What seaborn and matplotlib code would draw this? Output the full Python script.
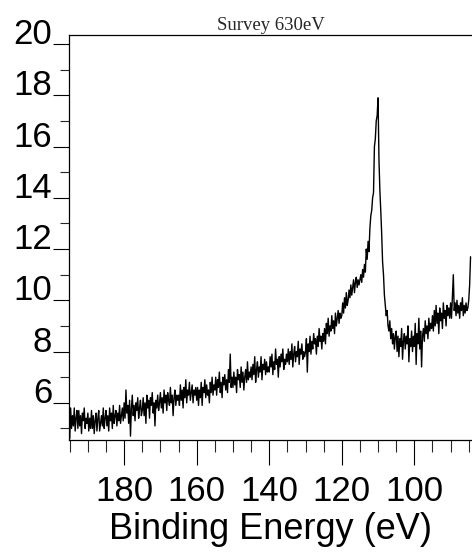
import numpy as np
import pandas as pd
import matplotlib
matplotlib.use("Agg")
import matplotlib.pyplot as plt
import seaborn as sns
from matplotlib.ticker import MultipleLocator

# Binding energy grid (eV), 0.25 eV steps from 195.0 down to 84.5
energy_start = 195.0
energy_step = 0.25

intensity = [
    # 195.0 - 190.25
    4.6, 5.8, 5.0, 5.5, 5.1, 5.8, 4.9, 5.4, 5.7, 5.0, 5.7, 5.1, 5.5, 4.8, 5.6, 5.3, 5.8, 5.0, 5.4, 5.2,
    # 190.0 - 185.25
    5.6, 4.9, 5.4, 5.0, 5.7, 5.0, 5.5, 4.8, 5.3, 5.6, 4.9, 5.4, 5.7, 4.9, 5.2, 5.5, 5.1, 5.8, 5.0, 5.4,
    # 185.0 - 180.25
    5.7, 5.1, 5.5, 4.9, 5.8, 5.3, 5.6, 5.0, 5.9, 5.2, 5.5, 5.7, 5.1, 5.6, 5.3, 5.9, 5.2, 5.5, 5.8, 5.3,
    # 180.0 - 175.25
    6.0, 5.4, 6.5, 5.6, 5.9, 5.2, 6.1, 4.7, 5.8, 6.3, 5.5, 5.9, 5.3, 6.0, 5.7, 6.2, 5.4, 5.8, 6.1, 5.5,
    # 175.0 - 170.25
    5.7, 6.2, 5.5, 6.0, 5.2, 6.3, 5.8, 6.1, 5.4, 6.2, 5.9, 6.4, 5.6, 6.0, 5.1, 6.1, 5.8, 6.3, 5.7, 6.0,
    # 170.0 - 165.25
    6.4, 5.8, 6.2, 5.6, 6.5, 6.0, 6.3, 5.7, 6.4, 6.1, 5.9, 6.6, 6.0, 6.3, 5.5, 6.2, 6.5, 5.9, 6.3, 6.1,
    # 165.0 - 160.25
    6.3, 5.9, 6.7, 6.1, 6.5, 5.8, 6.6, 6.2, 6.9, 6.0, 6.5, 6.3, 6.8, 6.1, 6.4, 6.7, 6.0, 6.5, 6.3, 6.6,
    # 160.0 - 155.25
    6.1, 6.6, 5.9, 6.5, 6.2, 6.8, 5.9, 6.6, 6.4, 6.9, 6.2, 6.7, 6.3, 6.5, 6.0, 6.8, 6.4, 7.0, 6.3, 6.7,
    # 155.0 - 150.25
    6.5, 7.0, 6.3, 6.9, 6.6, 7.2, 6.4, 6.8, 6.2, 7.0, 6.7, 7.1, 6.5, 6.9, 6.4, 7.3, 6.8, 7.9, 6.6, 7.0,
    # 150.0 - 145.25
    6.6, 7.2, 6.7, 7.0, 6.4, 7.3, 6.9, 7.1, 6.6, 7.4, 6.8, 7.2, 6.5, 7.0, 7.3, 6.8, 7.6, 6.9, 7.2, 7.0,
    # 145.0 - 140.25
    7.4, 6.9, 7.5, 7.1, 7.8, 6.8, 7.3, 7.6, 7.0, 7.4, 7.2, 7.8, 6.9, 7.5, 7.3, 7.7, 7.1, 7.6, 7.2, 7.4,
    # 140.0 - 135.25
    7.2, 7.8, 7.4, 7.9, 7.1, 7.6, 7.3, 8.1, 7.5, 7.7, 7.0, 7.8, 7.4, 7.9, 7.6, 8.1, 7.3, 7.7, 7.5, 7.9,
    # 135.0 - 130.25
    7.6, 8.1, 7.5, 8.0, 7.7, 8.3, 7.4, 7.9, 8.2, 7.6, 8.0, 7.8, 8.4, 7.5, 8.1, 7.9, 8.3, 7.7, 8.0, 7.8,
    # 130.0 - 125.25
    8.0, 8.5, 7.2, 8.3, 8.0, 8.6, 7.9, 8.4, 8.1, 8.7, 8.3, 8.5, 7.9, 8.6, 8.2, 8.9, 8.4, 8.6, 8.1, 8.7,
    # 125.0 - 120.25
    8.4, 8.9, 8.3, 9.1, 8.7, 9.3, 8.6, 9.0, 8.8, 9.4, 8.9, 9.2, 8.7, 9.5, 9.0, 9.3, 9.6, 9.1, 9.5, 9.3,
    # 120.0 - 115.25
    9.4, 9.9, 9.5, 10.1, 9.7, 10.3, 9.8, 10.0, 10.4, 10.1, 10.6, 10.2, 10.5, 10.8, 10.3, 10.7, 10.9, 10.5, 10.8, 10.6,
    # 115.0 - 110.25
    10.8, 11.0, 10.7, 11.2, 10.9, 11.4, 11.1, 12.0, 11.6, 12.3, 11.9, 12.8, 13.3, 13.5, 14.0, 14.2, 16.0, 16.3, 17.0, 17.2,
    # 110.0 - 105.25
    17.9, 15.5, 14.3, 13.5, 12.6, 11.5, 11.0, 10.2, 9.8, 9.4, 9.6, 9.0, 8.8, 9.2, 8.5, 8.9, 8.3, 8.7, 8.1, 8.6,
    # 105.0 - 100.25
    8.8, 8.0, 8.6, 7.8, 8.5, 8.2, 8.9, 7.7, 8.4, 8.7, 8.1, 8.6, 8.3, 9.0, 7.6, 8.5, 8.2, 8.8, 8.0, 8.6,
    # 100.0 - 95.25
    8.2, 9.1, 7.5, 8.7, 8.3, 9.3, 8.1, 8.8, 7.4, 8.6, 8.9, 8.4, 9.2, 8.7, 9.0, 8.5, 9.3, 8.8, 9.1, 8.9,
    # 95.0 - 90.25
    9.4, 8.8, 9.6, 9.0, 9.8, 9.1, 9.5, 8.7, 9.7, 9.2, 9.5, 8.9, 9.9, 9.3, 9.6, 9.0, 9.8, 9.4, 9.7, 9.3,
    # 90.0 - 85.25
    9.9, 9.3, 10.2, 11.0, 9.6, 9.9, 9.4, 10.0, 9.5, 9.8, 9.3, 9.9, 9.6, 10.1, 9.4, 9.8, 9.5, 9.9, 9.6, 9.7,
    # 85.0 - 84.5
    10.0, 10.6, 11.7,
]

energy = [energy_start - energy_step * i for i in range(len(intensity))]

x_major_ticks = [180, 160, 140, 120, 100]
y_major_ticks = [6, 8, 10, 12, 14, 16, 18, 20]
y_minor_ticks = [5, 7, 9, 11, 13, 15, 17, 19]
title_text = "Survey 630eV"
x_label = "Binding Energy (eV)"

df = pd.DataFrame({"energy": energy, "intensity": intensity})

sns.set_style("ticks")
plt.rcParams["font.family"] = ["Liberation Sans", "DejaVu Sans"]

fig = plt.figure(figsize=(4.72, 5.53), dpi=100)
ax = fig.add_axes([69 / 472, 113 / 553, 1 - 69 / 472, 405 / 553])

sns.lineplot(data=df, x="energy", y="intensity", ax=ax, color="black",
             linewidth=1.0, sort=False, estimator=None)

ax.set_xlim(195.2, 84.1)
ax.set_ylim(4.55, 20.35)

ax.set_xticks(x_major_ticks)
ax.xaxis.set_minor_locator(MultipleLocator(5))
ax.set_yticks(y_major_ticks)
ax.set_yticks(y_minor_ticks, minor=True)

ax.tick_params(axis="x", which="major", length=18, width=0.8, pad=7,
               labelsize=25, direction="out", colors="black")
ax.tick_params(axis="x", which="minor", length=8.6, width=0.8, direction="out")
ax.tick_params(axis="y", which="major", length=11.5, width=0.8, pad=0.5,
               labelsize=25, direction="out", colors="black")
ax.tick_params(axis="y", which="minor", length=6.5, width=0.8, direction="out")

for lab in ax.get_yticklabels():
    lab.set_verticalalignment("baseline")

ax.set_xlabel(x_label, fontsize=26, labelpad=3, color="black")
ax.set_ylabel("")
ax.set_title(title_text, fontsize=13.5, family=["Liberation Serif", "DejaVu Serif"],
             pad=3.5)

for side in ["left", "bottom", "top"]:
    ax.spines[side].set_visible(True)
    ax.spines[side].set_linewidth(0.9)
    ax.spines[side].set_color("black")
ax.spines["right"].set_visible(False)

fig.savefig("out.png", dpi=100)
